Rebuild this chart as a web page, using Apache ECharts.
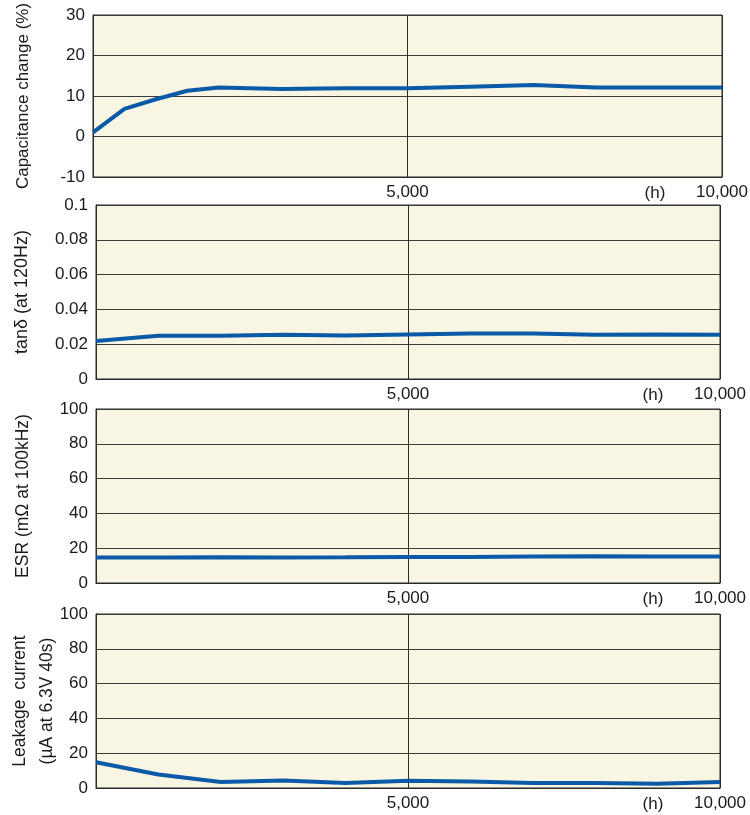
<!DOCTYPE html>
<html>
<head>
<meta charset="utf-8">
<script src="https://cdn.jsdelivr.net/npm/echarts@6/dist/echarts.min.js"></script>
<style>
  html, body { margin: 0; padding: 0; background: #fff; }
  #chart { width: 750px; height: 815px; }
</style>
</head>
<body>
<div id="chart"></div>
<script>
// Elapsed test time (h) for each measurement
const hoursCap = [0, 500, 1000, 1500, 2000, 3000, 4000, 5000, 6000, 7000, 8000, 9000, 10000];
const hours = [0, 1000, 2000, 3000, 4000, 5000, 6000, 7000, 8000, 9000, 10000];

// Measured characteristics
const capChange = [1.0, 6.8, 9.2, 11.3, 12.1, 11.7, 11.9, 11.9, 12.3, 12.7, 12.1, 12.1, 12.1];
const tanDelta = [0.0219, 0.0249, 0.0249, 0.0254, 0.0250, 0.0256, 0.0262, 0.0262, 0.0254, 0.0256, 0.0254];
const esr = [14.6, 14.7, 14.8, 14.7, 14.8, 15.0, 15.0, 15.2, 15.4, 15.2, 15.3];
const leakage = [14.8, 7.8, 3.5, 4.3, 2.9, 4.1, 3.7, 2.9, 2.9, 2.5, 3.5];

// Axis settings
const xMin = 0, xMax = 10000, xStep = 5000;
const hourUnit = '(h)';
const panels = [
  { name: 'Capacitance change (%)', min: -10, max: 30, step: 10, x: hoursCap, y: capChange },
  { name: 'tanδ (at 120Hz)', min: 0, max: 0.1, step: 0.02, x: hours, y: tanDelta },
  { name: 'ESR (mΩ at 100kHz)', min: 0, max: 100, step: 20, x: hours, y: esr },
  { name: 'Leakage  current\n(µA at 6.3V 40s)', min: 0, max: 100, step: 20, x: hours, y: leakage }
];

const FONT = 'Liberation Sans, Arial, Helvetica, sans-serif';
const gridBoxes = [
  { left: 93, top: 15, width: 629, height: 162 },
  { left: 96, top: 205, width: 624, height: 174 },
  { left: 96, top: 409, width: 624, height: 174 },
  { left: 96, top: 614, width: 624, height: 174 }
];
const nameGaps = [56, 60, 59, 35];
const nameSizes = [17, 18, 17.5, 17.5];

const chart = echarts.init(document.getElementById('chart'), null, { renderer: 'canvas' });

const option = {
  backgroundColor: '#ffffff',
  animation: false,
  grid: gridBoxes.map(b => Object.assign({
    show: true,
    containLabel: false,
    outerBoundsMode: 'none',
    backgroundColor: '#f8f5e2',
    borderColor: '#2a2a2a',
    borderWidth: 1
  }, b)),
  xAxis: panels.map((p, i) => ({
    type: 'value',
    gridIndex: i,
    min: xMin,
    max: xMax,
    interval: xStep,
    name: hourUnit,
    nameLocation: 'end',
    nameGap: -67,
    nameMoveOverlap: false,
    nameTextStyle: {
      fontFamily: FONT, fontSize: 17, color: '#1a1a1a',
      align: 'center', verticalAlign: 'top', padding: [8, 0, 0, 0]
    },
    axisLine: { show: true, onZero: false, lineStyle: { color: '#2a2a2a', width: 1 } },
    axisTick: { show: false },
    splitLine: { show: true, lineStyle: { color: '#2a2a2a', width: 1 } },
    axisLabel: {
      fontFamily: FONT, fontSize: 17, color: '#1a1a1a', margin: 7,
      formatter: v => v === 0 ? '' : v.toLocaleString('en-US')
    }
  })),
  yAxis: panels.map((p, i) => ({
    type: 'value',
    gridIndex: i,
    min: p.min,
    max: p.max,
    interval: p.step,
    name: p.name,
    nameLocation: 'middle',
    nameRotate: 90,
    nameGap: nameGaps[i],
    nameMoveOverlap: false,
    nameTextStyle: { fontFamily: FONT, fontSize: nameSizes[i], color: '#1a1a1a', lineHeight: 27 },
    axisLine: { show: true, onZero: false, lineStyle: { color: '#2a2a2a', width: 1 } },
    axisTick: { show: false },
    splitLine: { show: true, lineStyle: { color: '#3a3a3a', width: 1 } },
    axisLabel: {
      fontFamily: FONT, fontSize: 17, color: '#1a1a1a', margin: 8,
      formatter: v => String(Math.round(v * 1000) / 1000)
    }
  })),
  series: panels.map((p, i) => ({
    type: 'line',
    xAxisIndex: i,
    yAxisIndex: i,
    data: p.x.map((h, k) => [h, p.y[k]]),
    showSymbol: false,
    symbol: 'none',
    lineStyle: { color: '#0a5aa8', width: 4 },
    clip: true
  }))
};

chart.setOption(option);
</script>
</body>
</html>
